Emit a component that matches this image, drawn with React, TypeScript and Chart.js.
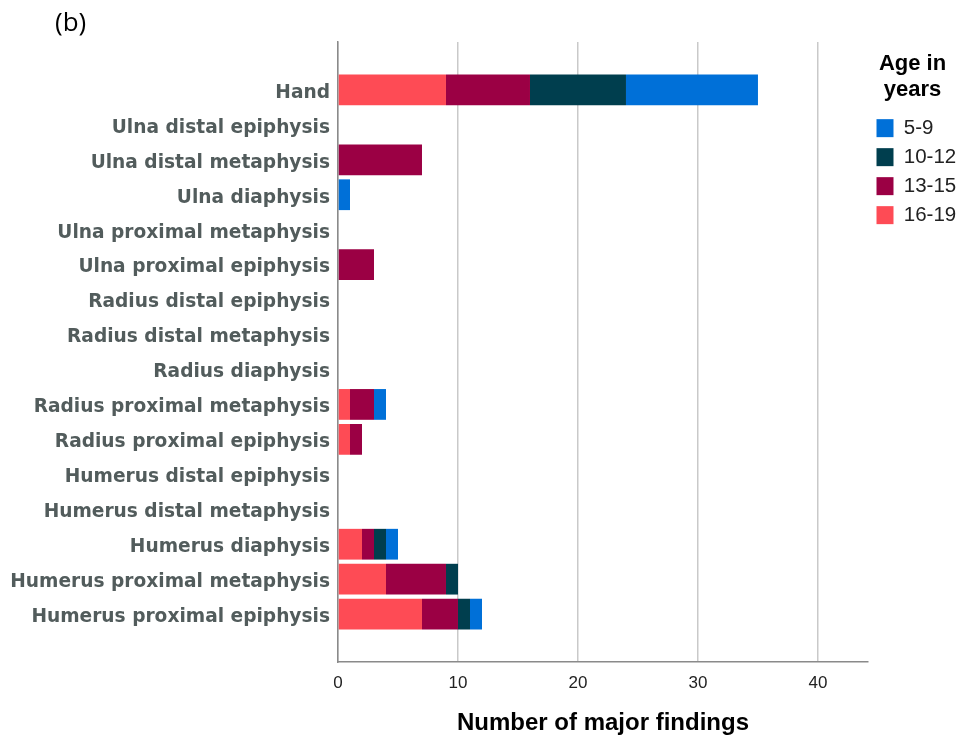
import React, { useEffect, useRef } from 'react';
import { Chart, registerables } from 'chart.js';

Chart.register(...registerables);

const categories = [
  'Hand',
  'Ulna distal epiphysis',
  'Ulna distal metaphysis',
  'Ulna diaphysis',
  'Ulna proximal metaphysis',
  'Ulna proximal epiphysis',
  'Radius distal epiphysis',
  'Radius distal metaphysis',
  'Radius diaphysis',
  'Radius proximal metaphysis',
  'Radius proximal epiphysis',
  'Humerus distal epiphysis',
  'Humerus distal metaphysis',
  'Humerus diaphysis',
  'Humerus proximal metaphysis',
  'Humerus proximal epiphysis',
];

const age16to19 = [9, 0, 0, 0, 0, 0, 0, 0, 0, 1, 1, 0, 0, 2, 4, 7];
const age13to15 = [7, 0, 7, 0, 0, 3, 0, 0, 0, 2, 1, 0, 0, 1, 5, 3];
const age10to12 = [8, 0, 0, 0, 0, 0, 0, 0, 0, 0, 0, 0, 0, 1, 1, 1];
const age5to9 = [11, 0, 0, 1, 0, 0, 0, 0, 0, 1, 0, 0, 0, 1, 0, 1];

const seriesLabels = ['16-19', '13-15', '10-12', '5-9'];
const xTickValues = [0, 10, 20, 30, 40];

const legendTitle = ['Age in', 'years'];
const xAxisTitle = 'Number of major findings';
const panelLabel = '(b)';

const colors = ['#fe4b55', '#9b0044', '#003e4e', '#0070d8'];

export default function App() {
  const ref = useRef<HTMLCanvasElement>(null);

  useEffect(() => {
    document.body.style.margin = '0';
    const series = [age16to19, age13to15, age10to12, age5to9];
    const chart = new Chart(ref.current as HTMLCanvasElement, {
      type: 'bar',
      data: {
        datasets: series.map((vals, si) => ({
          label: seriesLabels[si],
          data: vals.map((v, i) => ({ x: v, y: i })),
          backgroundColor: colors[si],
          borderWidth: 0,
          barPercentage: 0.88,
          categoryPercentage: 1,
        })),
      },
      options: {
        indexAxis: 'y',
        responsive: false,
        animation: false,
        layout: { padding: { top: 42, left: 0, right: 0, bottom: 0 } },
        plugins: {
          tooltip: { enabled: false },
          legend: {
            position: 'right',
            align: 'start',
            reverse: true,
            maxWidth: 89,
            title: {
              display: true,
              text: legendTitle,
              color: '#000',
              font: { family: '"Liberation Sans", Arial, sans-serif', size: 22, weight: 'bold', lineHeight: 1.2 },
              padding: { top: 11, bottom: 30 },
            },
            labels: {
              color: '#222',
              font: { family: '"Liberation Sans", Arial, sans-serif', size: 20.5 },
              boxWidth: 17,
              boxHeight: 18,
              padding: 8.5,
            },
          },
        },
        scales: {
          x: {
            type: 'linear',
            min: 0,
            max: 44.17,
            stacked: true,
            afterBuildTicks: (scale: any) => {
              scale.ticks = xTickValues.map((v) => ({ value: v }));
            },
            afterFit: (scale: any) => {
              scale.height = 76;
            },
            grid: { color: '#c9c9c9', lineWidth: 1.5, drawTicks: false },
            border: { color: '#8a8a8a', width: 1.5 },
            ticks: {
              color: '#222',
              padding: 11,
              font: { family: '"Liberation Sans", Arial, sans-serif', size: 17 },
            },
            title: {
              display: true,
              text: xAxisTitle,
              color: '#000',
              font: { family: '"Liberation Sans", Arial, sans-serif', size: 24, weight: 'bold' },
              padding: { top: 0, bottom: 0 },
            },
          },
          y: {
            type: 'linear',
            reverse: true,
            offset: false,
            min: -1.37,
            max: 16.37,
            stacked: true,
            afterBuildTicks: (scale: any) => {
              scale.ticks = categories.map((_, i) => ({ value: i }));
            },
            afterFit: (scale: any) => {
              scale.width = 338;
            },
            grid: { display: false, drawTicks: false },
            border: { display: true, color: '#8a8a8a', width: 1.5 },
            ticks: {
              autoSkip: false,
              padding: 8,
              labelOffset: 3,
              color: '#525c5c',
              font: { family: '"DejaVu Sans", Verdana, sans-serif', size: 18.6, weight: 'bold' },
              callback: (value: any) => categories[value as number] ?? '',
            },
          },
        },
      },
    } as any);
    return () => chart.destroy();
  }, []);

  return (
    <div style={{ position: 'relative', width: 957, height: 738 }}>
      <canvas ref={ref} width={957} height={738} style={{ display: 'block', width: 957, height: 738 }} />
      <div
        style={{
          position: 'absolute',
          left: 55,
          top: 5,
          fontFamily: '"Open Sans", sans-serif',
          fontSize: 26,
          lineHeight: '32px',
          color: '#000',
        }}
      >
        {panelLabel}
      </div>
    </div>
  );
}
